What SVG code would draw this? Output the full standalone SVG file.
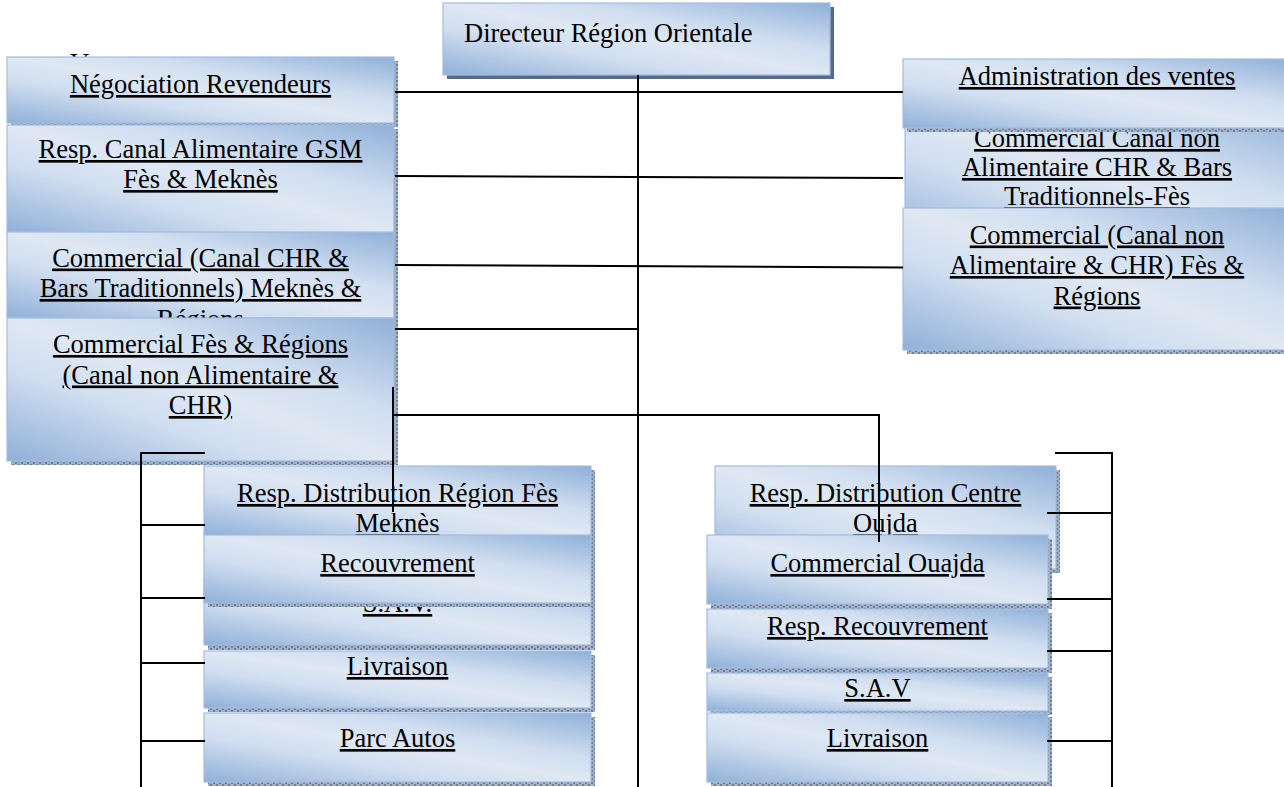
<svg xmlns="http://www.w3.org/2000/svg" width="1284" height="787" viewBox="0 0 1284 787">
<defs>
<linearGradient id="g" x1="0" y1="1" x2="1" y2="0">
<stop offset="0" stop-color="#8fb0d8"/>
<stop offset="0.33" stop-color="#d0def0"/>
<stop offset="0.5" stop-color="#dfe8f3"/>
<stop offset="0.67" stop-color="#d0def0"/>
<stop offset="1" stop-color="#8fb0d8"/>
</linearGradient>
<pattern id="chk" patternUnits="userSpaceOnUse" width="6" height="4">
<rect width="6" height="4" fill="#a2b0c6"/>
<rect x="0" y="0" width="2" height="2" fill="#6e7f9b"/>
<rect x="3" y="2" width="2" height="2" fill="#6e7f9b"/>
</pattern>
<clipPath id="clipV">
<rect x="60" y="50" width="40" height="7"/>
</clipPath>
<style>
.bx{fill:url(#g);stroke:#a3bddf;stroke-width:1.2}
.sh{fill:url(#chk)}
.f{font-family:"Liberation Serif","Times New Roman",serif;font-size:26.5px;fill:#000}
.t{font-family:"Liberation Serif","Times New Roman",serif;font-size:26.5px;fill:#000;text-anchor:middle;text-decoration:underline}
.c{fill:none;stroke:#000;stroke-width:2}
</style>
</defs>
<rect width="1284" height="787" fill="#fff"/>

<g id="n-directeur">
<rect x="447" y="7" width="387" height="72" fill="#566a8c"/>
<rect class="bx" x="443" y="3" width="387" height="72"/>
<text class="f" x="464" y="42">Directeur Région Orientale</text>
</g>

<g id="n-hidden-left" clip-path="url(#clipV)">
<text class="f" x="70" y="72">V</text>
</g>

<g id="n-negociation">
<rect class="sh" x="11" y="61" width="387" height="66"/>
<rect class="bx" x="7" y="57" width="387" height="66"/>
<text class="t" x="200.5" y="93">Négociation Revendeurs</text>
</g>
<g id="n-resp-canal-alim">
<rect class="sh" x="11" y="129" width="387" height="108"/>
<rect class="bx" x="7" y="125" width="387" height="108"/>
<text class="t" x="200.5" y="158">Resp. Canal Alimentaire GSM<tspan x="200.5" y="188">Fès &amp; Meknès</tspan></text>
</g>
<g id="n-commercial-chr">
<rect class="sh" x="11" y="236" width="387" height="86"/>
<rect class="bx" x="7" y="232" width="387" height="86"/>
<text class="t" x="200.5" y="266.5">Commercial (Canal CHR &amp;<tspan x="200.5" y="297">Bars Traditionnels) Meknès &amp;</tspan><tspan x="200.5" y="328">Régions</tspan></text>
</g>
<g id="n-commercial-fes">
<rect class="sh" x="11" y="322" width="387" height="143"/>
<rect class="bx" x="7" y="318" width="387" height="143"/>
<text class="t" x="200.5" y="353">Commercial Fès &amp; Régions<tspan x="200.5" y="383.5">(Canal non Alimentaire &amp;</tspan><tspan x="200.5" y="414">CHR)</tspan></text>
</g>

<g id="n-commercial-canal-non-alim">
<rect class="sh" x="909" y="114" width="388" height="136"/>
<rect class="bx" x="905" y="110" width="388" height="136"/>
<text class="t" x="1097" y="147">Commercial Canal non<tspan x="1097" y="176">Alimentaire CHR &amp; Bars</tspan><tspan x="1097" y="205">Traditionnels-Fès</tspan></text>
</g>
<g id="n-administration">
<rect class="sh" x="907" y="63" width="388" height="69"/>
<rect class="bx" x="903" y="59" width="388" height="69"/>
<text class="t" x="1097" y="85">Administration des ventes</text>
</g>
<g id="n-commercial-canal-non-chr">
<rect class="sh" x="907" y="212" width="388" height="142"/>
<rect class="bx" x="903" y="208" width="388" height="142"/>
<text class="t" x="1097" y="243.5">Commercial (Canal non<tspan x="1097" y="274">Alimentaire &amp; CHR) Fès &amp;</tspan><tspan x="1097" y="304.5">Régions</tspan></text>
</g>

<g id="n-resp-dist-fes">
<rect class="sh" x="208" y="470" width="387" height="70"/>
<rect class="bx" x="204" y="466" width="387" height="70"/>
<text class="t" x="397.5" y="502">Resp. Distribution Région Fès<tspan x="397.5" y="532">Meknès</tspan></text>
</g>
<g id="n-sav-left">
<rect class="sh" x="208" y="582" width="387" height="68"/>
<rect class="bx" x="204" y="578" width="387" height="67"/>
<text class="t" x="397.5" y="612">S.A.V.</text>
</g>
<g id="n-recouvrement">
<rect class="sh" x="208" y="539" width="387" height="68"/>
<rect class="bx" x="204" y="535" width="387" height="68"/>
<text class="t" x="397.5" y="572">Recouvrement</text>
</g>
<g id="n-livraison-left">
<rect class="sh" x="208" y="655" width="387" height="57"/>
<rect class="bx" x="204" y="651" width="387" height="57"/>
<text class="t" x="397.5" y="675">Livraison</text>
</g>
<g id="n-parc-autos">
<rect class="sh" x="208" y="717" width="387" height="69"/>
<rect class="bx" x="204" y="713" width="387" height="69"/>
<text class="t" x="397.5" y="747">Parc Autos</text>
</g>

<g id="n-resp-dist-oujda">
<rect class="sh" x="719" y="470" width="341" height="103"/>
<rect class="bx" x="715" y="466" width="341" height="103"/>
<text class="t" x="885.5" y="502">Resp. Distribution Centre<tspan x="885.5" y="532">Oujda</tspan></text>
</g>
<g id="n-commercial-ouajda">
<rect class="sh" x="711" y="539" width="341" height="70"/>
<rect class="bx" x="707" y="535" width="341" height="69"/>
<text class="t" x="877.5" y="572">Commercial Ouajda</text>
</g>
<g id="n-resp-recouvrement">
<rect class="sh" x="711" y="613" width="341" height="60"/>
<rect class="bx" x="707" y="609" width="341" height="59"/>
<text class="t" x="877.5" y="635">Resp. Recouvrement</text>
</g>
<g id="n-sav-right">
<rect class="sh" x="711" y="677" width="341" height="38"/>
<rect class="bx" x="707" y="673" width="341" height="38"/>
<text class="t" x="877.5" y="697">S.A.V</text>
</g>
<g id="n-livraison-right">
<rect class="sh" x="711" y="717" width="341" height="69"/>
<rect class="bx" x="707" y="713" width="341" height="69"/>
<text class="t" x="877.5" y="747">Livraison</text>
</g>

<g id="connectors">
<path class="c" d="M638,75 V787"/>
<path class="c" d="M395,92 H903"/>
<path class="c" d="M395,176 L903,178"/>
<path class="c" d="M395,265 L903,267.5"/>
<path class="c" d="M395,329 H638"/>
<path class="c" d="M393,387 V512"/>
<path class="c" d="M393,415 H879 V542"/>
<path class="c" d="M205,453 H141 V787"/>
<path class="c" d="M141,525 H205 M141,598 H205 M141,663 H205 M141,741 H205"/>
<path class="c" d="M1055,453 H1112 V787"/>
<path class="c" d="M1047,513 H1112 M1047,599 H1112 M1047,651 H1112 M1047,741 H1112"/>
</g>
</svg>
